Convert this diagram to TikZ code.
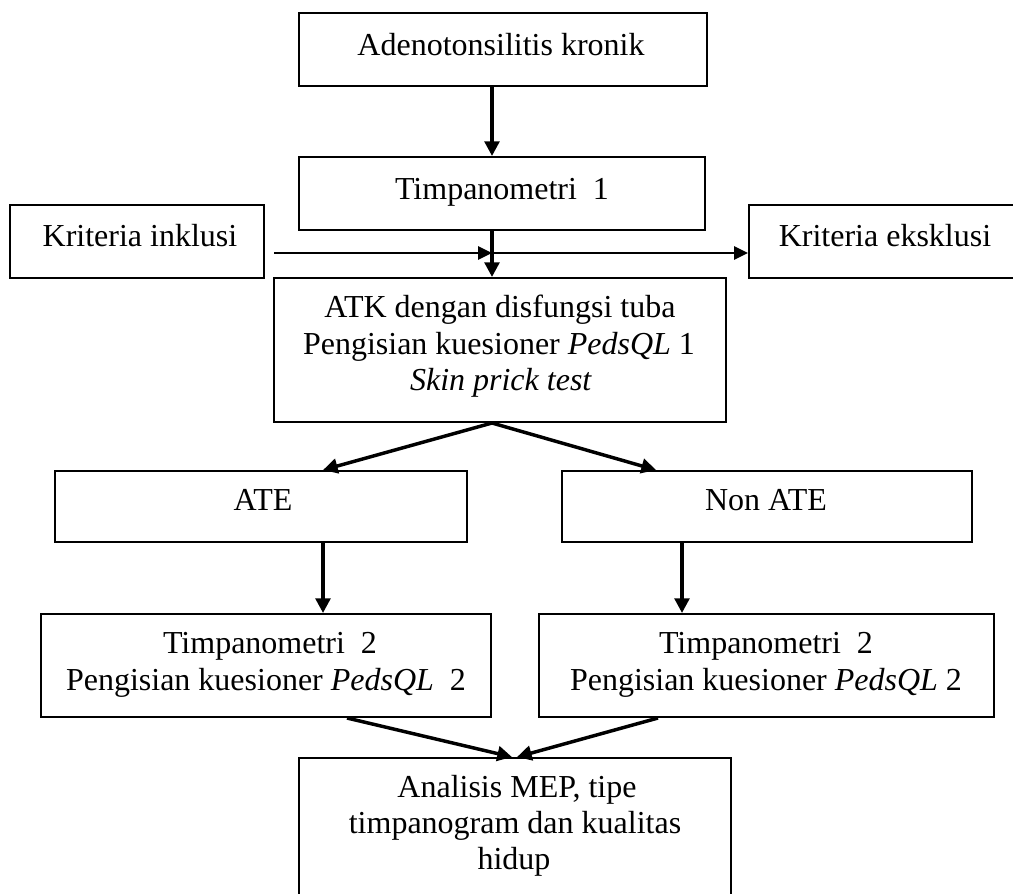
\documentclass[tikz,border=0pt]{standalone}
\usepackage{fontspec}
\setmainfont{Liberation Serif}
\usetikzlibrary{arrows.meta,fit}
\begin{document}
\begin{tikzpicture}[x=0.75pt,y=-0.75pt,
  box/.style={draw, line width=1.5pt, inner sep=0pt},
  bigarrow/.style={line width=2.6pt, -{Triangle[length=11pt,width=11pt]}},
  smallarrow/.style={line width=1.4pt, -{Triangle[length=10.5pt,width=10pt]}},
  lbl/.style={anchor=base, inner sep=0pt, font=\fontsize{24}{28}\selectfont}]
\useasboundingbox (0,0) rectangle (1013,893);
\clip (0,0) rectangle (1013,893);
\fill[white] (0,0) rectangle (1013,893);

% boxes
\node[box, fit={(299,13)(707,86)}] (b1) {};
\node[box, fit={(299,157)(705,230)}] (b2) {};
\node[box, fit={(10,205)(264,278)}] (inc) {};
\node[box, fit={(749,205)(1021,278)}] (exc) {};
\node[box, fit={(274,278)(726,422)}] (atk) {};
\node[box, fit={(55,471)(467,542)}] (ate) {};
\node[box, fit={(562,471)(972,542)}] (non) {};
\node[box, fit={(41,614)(491,717)}] (t2l) {};
\node[box, fit={(539,614)(994,717)}] (t2r) {};
\node[box, fit={(299,758)(731,897)}] (ana) {};

% texts
\node[lbl] (tb1) at (501,55) {Adenotonsilitis kronik};
\node[lbl] (tb2) at (502,199) {Timpanometri\ \ 1};
\node[lbl] (tinc) at (140,246) {Kriteria inklusi};
\node[lbl] (texc) at (885,246) {Kriteria eksklusi};
\node[lbl] (tatk1) at (500,317) {ATK dengan disfungsi tuba};
\node[lbl] (tatk2) at (499,354) {Pengisian kuesioner \textit{PedsQL} 1};
\node[lbl] (tatk3) at (501,390) {\textit{Skin prick test}};
\node[lbl] (tate) at (263,510) {ATE};
\node[lbl] (tnon) at (766,510) {Non ATE};
\node[lbl] (tl1) at (270,653) {Timpanometri\ \ 2};
\node[lbl] (tl2) at (266,690) {Pengisian kuesioner \textit{PedsQL}\ \ 2};
\node[lbl] (tr1) at (766,653) {Timpanometri\ \ 2};
\node[lbl] (tr2) at (766,690) {Pengisian kuesioner \textit{PedsQL} 2};
\node[lbl] (ta1) at (517,797) {Analisis MEP, tipe};
\node[lbl] (ta2) at (515,833) {timpanogram dan kualitas};
\node[lbl] (ta3) at (514,869) {hidup};

% helper coordinates
\coordinate (mx) at (492,253);
\coordinate (ix) at (274,253);
\coordinate (xa) at (323,0);
\coordinate (xn) at (656,0);
\coordinate (xn2) at (682,0);
\coordinate (xl3) at (347,0);
\coordinate (xr3) at (658,0);
\coordinate (xe1) at (512,0);
\coordinate (xe2) at (517,0);

% connectors
\draw[bigarrow] (mx |- b1.south) -- (mx |- b2.north);
\draw[bigarrow] (mx |- b2.south) -- (mx |- atk.north);
\draw[smallarrow] (ix) -- (mx);
\draw[smallarrow] (mx) -- (exc.west |- mx);
\draw[bigarrow] (mx |- atk.south) -- (xa |- ate.north);
\draw[bigarrow] (mx |- atk.south) -- (xn |- non.north);
\draw[bigarrow] (xa |- ate.south) -- (xa |- t2l.north);
\draw[bigarrow] (xn2 |- non.south) -- (xn2 |- t2r.north);
\draw[bigarrow] (xl3 |- t2l.south) -- (xe1 |- ana.north);
\draw[bigarrow] (xr3 |- t2r.south) -- (xe2 |- ana.north);
\end{tikzpicture}
\end{document}
